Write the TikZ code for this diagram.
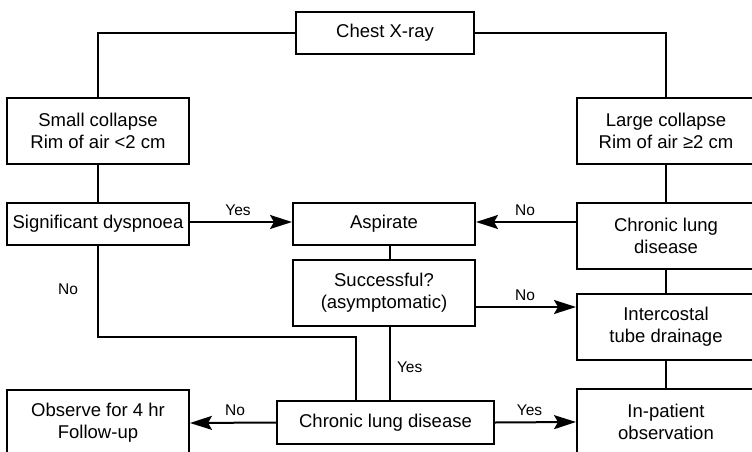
\documentclass[tikz,border=0pt]{standalone}
\usepackage{fontspec}
\setmainfont{Liberation Sans}
\usetikzlibrary{arrows.meta}
\begin{document}
\begin{tikzpicture}[x=1pt,y=-1pt,
  box/.style={draw,line width=2pt,rectangle,align=center,inner sep=0pt,
    font=\fontsize{18.5}{22}\selectfont},
  link/.style={line width=2pt},
  arr/.style={line width=2pt,-{Stealth[length=22pt,width=14pt,inset=4pt]}},
  lab/.style={font=\fontsize{15.5}{18}\selectfont,inner sep=0pt}]
\useasboundingbox (0,0) rectangle (752,452);
\clip (0,0) rectangle (752,452);
% boxes
\node[box,minimum width=178pt,minimum height=42pt] (cx) at (385,33) {Chest X-ray};
\node[box,minimum width=182pt,minimum height=66pt] (sc) at (98,131) {Small collapse\\Rim of air <2 cm};
\node[box,minimum width=178pt,minimum height=66pt] (lc) at (666,131) {Large collapse\\Rim of air ≥2 cm};
\node[box,minimum width=182pt,minimum height=42pt] (sd) at (98,224) {Significant dyspnoea};
\node[box,minimum width=182pt,minimum height=42pt] (asp) at (384,224) {Aspirate};
\node[box,minimum width=178pt,minimum height=66pt] (cr) at (666,236) {Chronic lung\\disease};
\node[box,minimum width=182pt,minimum height=66pt] (succ) at (384,293) {Successful?\\(asymptomatic)};
\node[box,minimum width=178pt,minimum height=66pt] (ic) at (666,327) {Intercostal\\tube drainage};
\node[box,minimum width=217pt,minimum height=43pt] (cb) at (385.5,422.5) {Chronic lung disease};
\node[box,minimum width=182pt,minimum height=66pt] (obs) at (98,423) {Observe for 4 hr\\Follow-up};
\node[box,minimum width=178pt,minimum height=66pt] (ip) at (666,422) {In-patient\\observation};
% guide coordinates for off-centre connectors
\coordinate (vx) at (390,0);
\coordinate (ay) at (0,222);
\coordinate (sy) at (0,307);
\coordinate (jn) at (356,337);
% connectors
\draw[link] (cx.west) -| (sc.north);
\draw[link] (cx.east) -| (lc.north);
\draw[link] (sc.south) -- (sd.north);
\draw[link] (lc.south) -- (cr.north);
\draw[link] (cr.south) -- (ic.north);
\draw[link] (ic.south) -- (ip.north);
\draw[arr] (sd.east |- ay) -- node[lab,above=5pt,xshift=-3pt] (l1) {Yes} (asp.west |- ay);
\draw[arr] (cr.west |- ay) -- node[lab,above=5pt,xshift=-1pt] (l2) {No} (asp.east |- ay);
\draw[link] (asp.south -| vx) -- (succ.north -| vx);
\draw[arr] (succ.east |- sy) -- node[lab,above=5pt,xshift=-1pt] (l3) {No} (ic.west |- sy);
\draw[link] (succ.south -| vx) -- node[lab,right=6pt,pos=0.55] (l4) {Yes} (cb.north -| vx);
\draw[link] (sd.south) -- node[lab,left=19pt,pos=0.47] (l5) {No} (sd.south |- jn) -- (jn) -- (cb.north -| jn);
\draw[arr] (cb.west) -- node[lab,above=6pt,xshift=2pt] (l6) {No} (obs.east);
\draw[arr] (cb.east) -- node[lab,above=6pt,xshift=-6pt] (l7) {Yes} (ip.west);
\end{tikzpicture}
\end{document}
